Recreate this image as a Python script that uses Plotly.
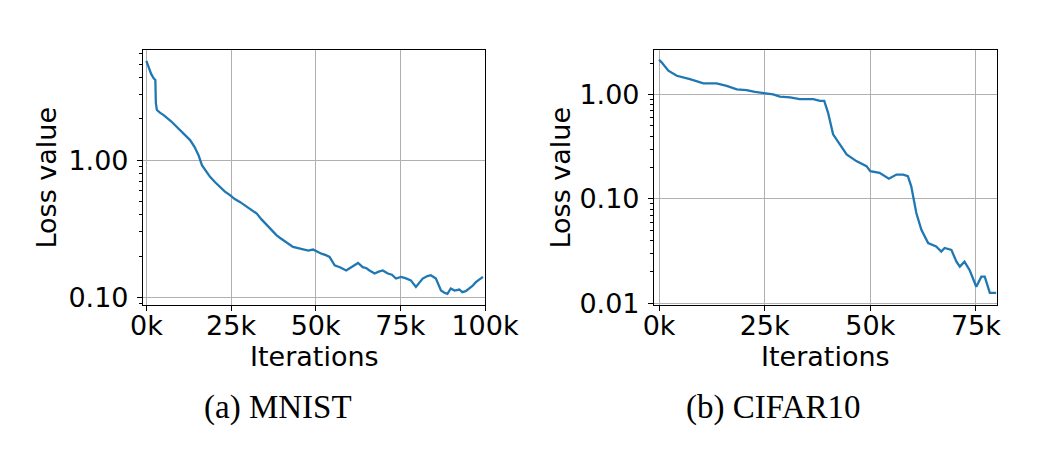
import plotly.graph_objects as go

# MNIST curve (iterations in thousands, loss value)
mnist_iter = [0, 0.7, 1.4, 2.15, 2.65, 2.8, 3.1, 4.0, 5.1, 7.3, 9.5, 11.2, 12.9, 14.2, 15.4, 16.4,
              17.6, 18.8, 20.3, 21.8, 23.2, 24.7, 26.1, 27.6, 29.0, 30.6, 31.5, 32.6, 34.0, 35.5,
              37.0, 38.4, 39.4, 40.4, 41.8, 43.3, 44.8, 46.3, 47.8, 49.2, 50.5, 51.7, 53.0, 54.1,
              55.6, 57.3, 59.0, 60.5, 61.5, 62.5, 63.9, 65.0, 65.9, 67.4, 68.6, 69.8, 71.3, 72.5,
              73.7, 75.2, 76.5, 78.1, 79.6, 80.6, 81.6, 83.0, 84.0, 85.5, 86.2, 87.0, 88.0, 88.9,
              89.9, 91.0, 92.4, 93.3, 94.3, 95.3, 96.3, 97.3, 98.4, 99.4]
mnist_loss = [5.3, 4.67, 4.25, 3.95, 3.84, 2.6, 2.32, 2.22, 2.13, 1.92, 1.70, 1.55, 1.40, 1.25, 1.087, 0.92,
              0.83, 0.755, 0.69, 0.638, 0.59, 0.556, 0.52, 0.496, 0.47, 0.444, 0.43, 0.408, 0.37, 0.336,
              0.305, 0.284, 0.272, 0.261, 0.245, 0.233, 0.228, 0.223, 0.219, 0.223, 0.214, 0.208, 0.203, 0.197,
              0.171, 0.165, 0.157, 0.166, 0.172, 0.178, 0.166, 0.163, 0.157, 0.149, 0.154, 0.157, 0.149, 0.146,
              0.137, 0.141, 0.138, 0.133, 0.119, 0.128, 0.137, 0.143, 0.145, 0.137, 0.125, 0.112, 0.108, 0.106,
              0.116, 0.112, 0.114, 0.109, 0.111, 0.116, 0.121, 0.129, 0.135, 0.141]

# CIFAR10 curve
cifar_iter = [0, 0.6, 2.2, 4.2, 7.3, 10.5, 13.6, 16.0, 18.4, 20.7, 22.7, 25.1, 27.0, 28.6, 31.0,
              33.3, 36.5, 38.1, 39.1, 40.0, 40.8, 41.2, 42.8, 44.4, 46.7, 49.1, 50.0, 52.2, 54.4,
              56.2, 57.8, 58.9, 59.7, 60.5, 60.9, 62.1, 63.7, 65.6, 66.8, 67.6, 69.2, 70.4, 71.2,
              72.3, 73.5, 75.1, 76.3, 77.1, 77.9, 78.3, 79.8]
cifar_loss = [2.15, 2.03, 1.69, 1.51, 1.40, 1.28, 1.28, 1.21, 1.12, 1.10, 1.06, 1.03, 1.0, 0.956, 0.936,
              0.901, 0.901, 0.868, 0.868, 0.671, 0.499, 0.415, 0.333, 0.267, 0.230, 0.206, 0.184, 0.178, 0.156,
              0.171, 0.171, 0.165, 0.132, 0.0916, 0.0733, 0.0507, 0.0378, 0.035, 0.0313, 0.0339, 0.0325, 0.0251, 0.0225,
              0.0251, 0.0209, 0.0144, 0.018, 0.018, 0.0139, 0.0126, 0.0126]

x_ticks_left = [0, 25, 50, 75, 100]
x_labels_left = ["0k", "25k", "50k", "75k", "100k"]
x_ticks_right = [0, 25, 50, 75]
x_labels_right = ["0k", "25k", "50k", "75k"]
y_ticks_left = [0.1, 1.0]
y_labels_left = ["0.10", "1.00"]
y_ticks_right = [0.01, 0.1, 1.0]
y_labels_right = ["0.01", "0.10", "1.00"]

captions = ["(a) MNIST", "(b) CIFAR10"]
x_title = "Iterations"
y_title = "Loss value"

W, H = 1049, 459
blue = "#1f77b4"
font = dict(family="DejaVu Sans", size=27, color="black")
cap_font = dict(family="Liberation Serif", size=33, color="black")

def minors(lo_exp, hi_exp):
    return [m * 10 ** e for e in range(lo_exp, hi_exp) for m in range(2, 10)]

fig = go.Figure()
fig.add_trace(go.Scatter(x=mnist_iter, y=mnist_loss, mode="lines",
                         line=dict(color=blue, width=2.3), xaxis="x", yaxis="y", showlegend=False))
fig.add_trace(go.Scatter(x=cifar_iter, y=cifar_loss, mode="lines",
                         line=dict(color=blue, width=2.3), xaxis="x2", yaxis="y2", showlegend=False))

ydom = [1 - 305 / H, 1 - 50 / H]
common_axis = dict(showline=True, linecolor="black", linewidth=1.1, mirror=True,
                   ticks="outside", ticklen=5, tickwidth=1.1, tickcolor="black",
                   showgrid=True, gridcolor="#b0b0b0", gridwidth=1, zeroline=False,
                   tickfont=font, automargin=False)
x_extra = dict(ticklabelstandoff=-8)
y_extra = dict(ticklabelstandoff=3)

def ann(text, x, y, f, angle=0):
    return dict(text=text, x=x / W, y=1 - y / H, xref="paper", yref="paper",
                showarrow=False, xanchor="center", yanchor="middle", textangle=angle, font=f)

fig.update_layout(
    width=W, height=H, margin=dict(l=0, r=0, t=0, b=0),
    paper_bgcolor="white", plot_bgcolor="white",
    xaxis=dict(domain=[143 / W, 485 / W], range=[-1.0, 100.0], tickvals=x_ticks_left,
               ticktext=x_labels_left, anchor="y", **common_axis, **x_extra),
    yaxis=dict(domain=ydom, type="log", range=[-1.056, 0.803], tickvals=y_ticks_left,
               ticktext=y_labels_left, anchor="x",
               minor=dict(tickvals=minors(-2, 1), ticks="outside", ticklen=3, tickcolor="black", showgrid=False),
               **common_axis, **y_extra),
    xaxis2=dict(domain=[654 / W, 997 / W], range=[-1.2, 80.0], tickvals=x_ticks_right,
                ticktext=x_labels_right, anchor="y2", **common_axis, **x_extra),
    yaxis2=dict(domain=ydom, type="log", range=[-2.016, 0.426], tickvals=y_ticks_right,
                ticktext=y_labels_right, anchor="x2",
                minor=dict(tickvals=minors(-3, 1), ticks="outside", ticklen=3, tickcolor="black", showgrid=False),
                **common_axis, **y_extra),
    annotations=[
        ann(y_title, 46, 177.5, font, -90),
        ann(y_title, 560, 177.5, font, -90),
        ann(x_title, 314, 356, font),
        ann(x_title, 825.5, 356, font),
        ann(captions[0], 278, 407, cap_font),
        ann(captions[1], 773, 407, cap_font),
    ],
)

fig.write_html("out.html")
